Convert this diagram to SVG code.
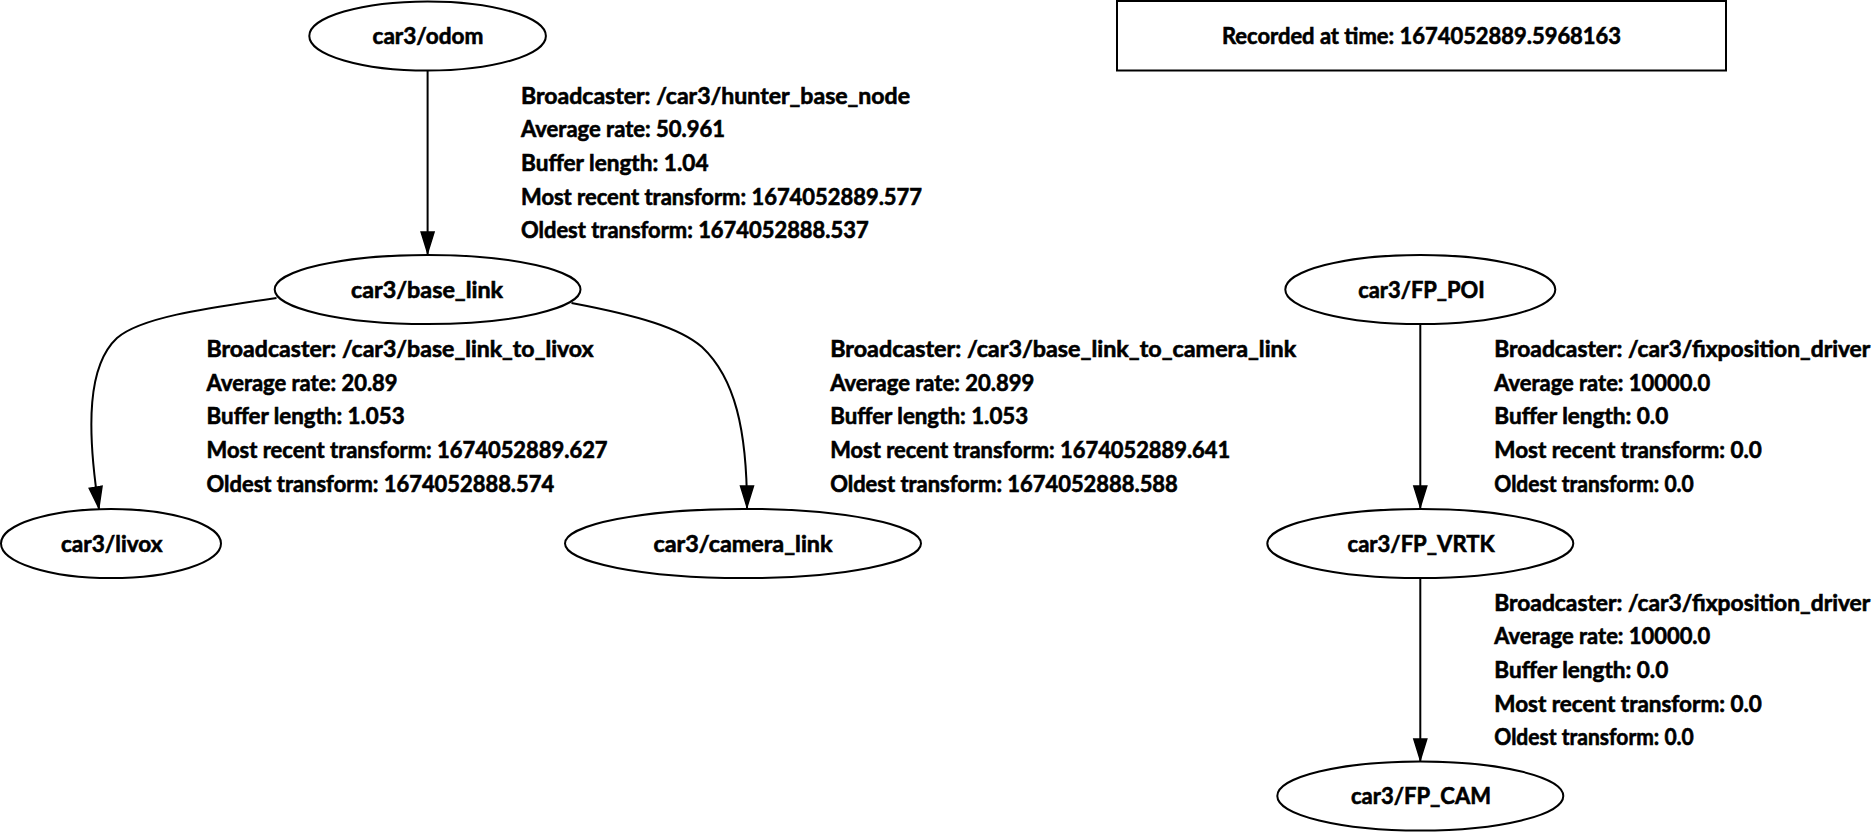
<svg xmlns="http://www.w3.org/2000/svg" width="1873" height="834" viewBox="0 0 1873 834">
<style>
.bg{fill:#fff}
.node ellipse,.node rect{fill:#fff;stroke:#000;stroke-width:2}
.nl{font-family:Lato,"Liberation Sans",sans-serif;font-weight:700;font-size:22px;fill:#000;stroke:#000;stroke-width:0.6;text-anchor:middle}
.el{font-family:Lato,"Liberation Sans",sans-serif;font-weight:700;font-size:22px;fill:#000;stroke:#000;stroke-width:0.6}
.edge{fill:none;stroke:#000;stroke-width:2;marker-end:url(#arr)}
</style>
<defs>
<marker id="arr" viewBox="0 0 23 16" refX="23" refY="8" markerWidth="23" markerHeight="16" markerUnits="userSpaceOnUse" orient="auto">
<path d="M1,1.5 L22,8 L1,14.5 z" fill="#000" stroke="#000" stroke-width="1.5"/>
</marker>
</defs>
<rect class="bg" x="0" y="0" width="1873" height="834"/>
<g id="connectors">
<path class="edge" d="M427.6,70.5 L427.6,254"/>
<path class="edge" d="M276.5,298 C200,309 140,318 117,338 C88,365 86,425 99,509"/>
<path class="edge" d="M571.5,303 C640,316 680,328 702,347 C735,378 747,430 747,508"/>
<path class="edge" d="M1420.3,324 L1420.3,508"/>
<path class="edge" d="M1420.3,578 L1420.3,761"/>
</g>
<g id="edge-labels">
<text class="el" x="521" y="103.5" textLength="389" lengthAdjust="spacingAndGlyphs">Broadcaster: /car3/hunter_base_node</text>
<text class="el" x="521" y="137.2" textLength="204" lengthAdjust="spacingAndGlyphs">Average rate: 50.961</text>
<text class="el" x="521" y="170.9" textLength="187.5" lengthAdjust="spacingAndGlyphs">Buffer length: 1.04</text>
<text class="el" x="521" y="204.6" textLength="401" lengthAdjust="spacingAndGlyphs">Most recent transform: 1674052889.577</text>
<text class="el" x="521" y="238.3" textLength="347.6" lengthAdjust="spacingAndGlyphs">Oldest transform: 1674052888.537</text>

<text class="el" x="206.6" y="357" textLength="387" lengthAdjust="spacingAndGlyphs">Broadcaster: /car3/base_link_to_livox</text>
<text class="el" x="206.6" y="390.7" textLength="191" lengthAdjust="spacingAndGlyphs">Average rate: 20.89</text>
<text class="el" x="206.6" y="424.4" textLength="198" lengthAdjust="spacingAndGlyphs">Buffer length: 1.053</text>
<text class="el" x="206.6" y="458.1" textLength="401" lengthAdjust="spacingAndGlyphs">Most recent transform: 1674052889.627</text>
<text class="el" x="206.6" y="491.8" textLength="347.6" lengthAdjust="spacingAndGlyphs">Oldest transform: 1674052888.574</text>

<text class="el" x="830.2" y="357" textLength="466" lengthAdjust="spacingAndGlyphs">Broadcaster: /car3/base_link_to_camera_link</text>
<text class="el" x="830.2" y="390.7" textLength="204" lengthAdjust="spacingAndGlyphs">Average rate: 20.899</text>
<text class="el" x="830.2" y="424.4" textLength="198" lengthAdjust="spacingAndGlyphs">Buffer length: 1.053</text>
<text class="el" x="830.2" y="458.1" textLength="400" lengthAdjust="spacingAndGlyphs">Most recent transform: 1674052889.641</text>
<text class="el" x="830.2" y="491.8" textLength="347.6" lengthAdjust="spacingAndGlyphs">Oldest transform: 1674052888.588</text>

<text class="el" x="1494.3" y="357" textLength="376" lengthAdjust="spacingAndGlyphs">Broadcaster: /car3/fixposition_driver</text>
<text class="el" x="1494.3" y="390.7" textLength="216" lengthAdjust="spacingAndGlyphs">Average rate: 10000.0</text>
<text class="el" x="1494.3" y="424.4" textLength="174" lengthAdjust="spacingAndGlyphs">Buffer length: 0.0</text>
<text class="el" x="1494.3" y="458.1" textLength="267.6" lengthAdjust="spacingAndGlyphs">Most recent transform: 0.0</text>
<text class="el" x="1494.3" y="491.8" textLength="199.5" lengthAdjust="spacingAndGlyphs">Oldest transform: 0.0</text>

<text class="el" x="1494.3" y="610.5" textLength="376" lengthAdjust="spacingAndGlyphs">Broadcaster: /car3/fixposition_driver</text>
<text class="el" x="1494.3" y="644.2" textLength="216" lengthAdjust="spacingAndGlyphs">Average rate: 10000.0</text>
<text class="el" x="1494.3" y="677.9" textLength="174" lengthAdjust="spacingAndGlyphs">Buffer length: 0.0</text>
<text class="el" x="1494.3" y="711.6" textLength="267.6" lengthAdjust="spacingAndGlyphs">Most recent transform: 0.0</text>
<text class="el" x="1494.3" y="745.3" textLength="199.5" lengthAdjust="spacingAndGlyphs">Oldest transform: 0.0</text>
</g>
<g id="node-odom" class="node"><ellipse cx="427.6" cy="36" rx="118.3" ry="34.6"/><text class="nl" x="428" y="44" textLength="111" lengthAdjust="spacingAndGlyphs">car3/odom</text></g>
<g id="node-base_link" class="node"><ellipse cx="427.6" cy="289.5" rx="152.9" ry="34.6"/><text class="nl" x="427" y="297.5" textLength="152" lengthAdjust="spacingAndGlyphs">car3/base_link</text></g>
<g id="node-livox" class="node"><ellipse cx="111" cy="543.5" rx="110" ry="34.6"/><text class="nl" x="111.7" y="551.5" textLength="101.5" lengthAdjust="spacingAndGlyphs">car3/livox</text></g>
<g id="node-camera_link" class="node"><ellipse cx="743" cy="543.5" rx="178" ry="34.6"/><text class="nl" x="743" y="551.5" textLength="179" lengthAdjust="spacingAndGlyphs">car3/camera_link</text></g>
<g id="node-FP_POI" class="node"><ellipse cx="1420.3" cy="289.5" rx="135" ry="34.6"/><text class="nl" x="1421.5" y="297.5" textLength="126.6" lengthAdjust="spacingAndGlyphs">car3/FP_POI</text></g>
<g id="node-FP_VRTK" class="node"><ellipse cx="1420.3" cy="543.5" rx="153" ry="34.6"/><text class="nl" x="1421" y="551.5" textLength="147" lengthAdjust="spacingAndGlyphs">car3/FP_VRTK</text></g>
<g id="node-FP_CAM" class="node"><ellipse cx="1420.3" cy="796" rx="143" ry="34.6"/><text class="nl" x="1421" y="804" textLength="140" lengthAdjust="spacingAndGlyphs">car3/FP_CAM</text></g>
<g id="node-recorded" class="node"><rect x="1117" y="1" width="609" height="69.5"/><text class="nl" x="1421.5" y="44" textLength="399" lengthAdjust="spacingAndGlyphs">Recorded at time: 1674052889.5968163</text></g>
</svg>
